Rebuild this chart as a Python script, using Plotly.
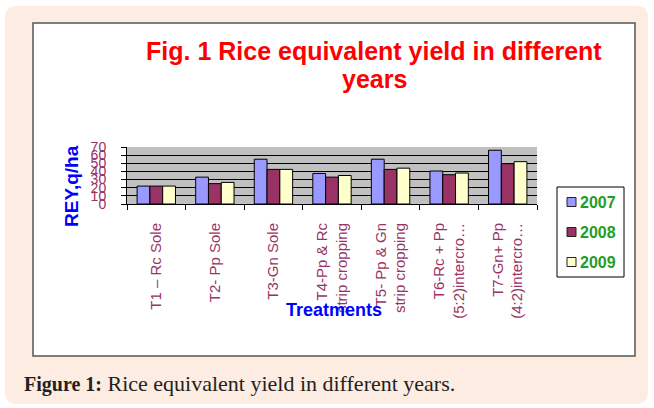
import plotly.graph_objects as go

# ---- data -------------------------------------------------------------
treatments = [
    "T1 – Rc Sole",
    "T2- Pp Sole",
    "T3-Gn Sole",
    "T4-Pp & Rc<br>strip cropping",
    "T5- Pp & Gn<br>strip cropping",
    "T6-Rc + Pp<br>(5:2)intercro…",
    "T7-Gn+ Pp<br>(4:2)intercro…",
]
years = ["2007", "2008", "2009"]
rey_2007 = [22, 33, 55, 37.5, 55, 40.5, 66]
rey_2008 = [22, 25, 42.5, 33, 42.5, 36, 49.5]
rey_2009 = [22, 26.5, 42.5, 35, 44, 38, 52]
y_ticks = [0, 10, 20, 30, 40, 50, 60, 70]

series = [rey_2007, rey_2008, rey_2009]
bar_colors = ["#9999ff", "#993366", "#ffffcc"]

# ---- page geometry (pixels) -------------------------------------------
W, H = 654, 408
L, R, T, B = 127, 537, 147, 204          # plot area edges


def fx(px):
    return (px - L) / (R - L)


def fy(py):
    return (B - py) / (B - T)


def rounded_rect(x0, y0, x1, y1, r):
    pts = [
        ("M", x0 + r, y0), ("L", x1 - r, y0), ("Q", x1, y0, x1, y0 + r),
        ("L", x1, y1 - r), ("Q", x1, y1, x1 - r, y1), ("L", x0 + r, y1),
        ("Q", x0, y1, x0, y1 - r), ("L", x0, y0 + r), ("Q", x0, y0, x0 + r, y0),
    ]
    out = []
    for p in pts:
        cmd, coords = p[0], p[1:]
        pairs = []
        for i in range(0, len(coords), 2):
            pairs.append(f"{fx(coords[i]):.5f},{fy(coords[i + 1]):.5f}")
        out.append(cmd + " ".join(pairs))
    return " ".join(out) + " Z"


SANS = "Liberation Sans, Arial, sans-serif"
MAROON = "#993366"

fig = go.Figure()
for name, vals, col in zip(years, series, bar_colors):
    fig.add_trace(go.Bar(
        x=treatments, y=vals, name=name,
        marker=dict(color=col, line=dict(color="black", width=1)),
        showlegend=False,
    ))

shapes = [
    # peach frame
    dict(type="path", xref="paper", yref="paper", layer="below",
         path=rounded_rect(5, 6, 648, 404, 12),
         fillcolor="#fcece2", line=dict(width=0)),
    # white chart box
    dict(type="rect", xref="paper", yref="paper", layer="below",
         x0=fx(33), x1=fx(635), y0=fy(23), y1=fy(356),
         fillcolor="white", line=dict(color="#555555", width=1.5)),
    # grey plot background
    dict(type="rect", xref="paper", yref="paper", layer="below",
         x0=0, x1=1, y0=0, y1=1, fillcolor="#c0c0c0", line=dict(width=0)),
    # legend box
    dict(type="rect", xref="paper", yref="paper",
         x0=fx(557), x1=fx(624), y0=fy(187), y1=fy(277),
         fillcolor="white", line=dict(color="black", width=1)),
]

annotations = [
    dict(text="<b>Fig. 1 Rice equivalent yield in different</b>", x=fx(374), y=fy(51),
         font=dict(family=SANS, size=25, color="#ff0000")),
    dict(text="<b>years</b>", x=fx(374), y=fy(79),
         font=dict(family=SANS, size=25, color="#ff0000")),
    dict(text="<b>REY,q/ha</b>", x=fx(71), y=fy(186), textangle=-90,
         font=dict(family=SANS, size=19, color="#0000ff")),
    dict(text="<b>Treatments</b>", x=fx(334), y=fy(310),
         font=dict(family=SANS, size=18, color="#0000ff")),
]

# legend entries
legend_y = [202, 232, 262]
for name, col, ly in zip(years, bar_colors, legend_y):
    shapes.append(dict(type="rect", xref="paper", yref="paper",
                       x0=fx(567), x1=fx(576), y0=fy(ly + 4.5), y1=fy(ly - 4.5),
                       fillcolor=col, line=dict(color="#222222", width=1)))
    annotations.append(dict(text="<b>" + name + "</b>", x=fx(578), y=fy(ly),
                            xanchor="left",
                            font=dict(family=SANS, size=16, color="#1f9e24")))

# caption
annotations.append(dict(
    text=('<b><span style="font-size:20px">Figure 1:</span></b> '
          "Rice equivalent yield in different years."),
    x=fx(22), y=fy(383), xanchor="left",
    font=dict(family="Liberation Serif, Times New Roman, serif", size=22, color="#231f20"),
))

for a in annotations:
    a.setdefault("xref", "paper")
    a.setdefault("yref", "paper")
    a.setdefault("xanchor", "center")
    a.setdefault("yanchor", "middle")
    a["showarrow"] = False

fig.update_layout(
    width=W, height=H,
    margin=dict(l=L, r=W - R, t=T, b=H - B, pad=0),
    paper_bgcolor="white",
    plot_bgcolor="rgba(0,0,0,0)",
    barmode="group", bargap=0.345, bargroupgap=0,
    shapes=shapes, annotations=annotations,
    showlegend=False,
    xaxis=dict(
        type="category", range=[-0.5, 6.5],
        showline=True, linecolor="black", linewidth=1,
        ticks="outside", ticklen=5, tickcolor="black", tickson="boundaries",
        tickangle=-90, ticklabelstandoff=12,
        tickfont=dict(family=SANS, size=15, color=MAROON),
        showgrid=False,
    ),
    yaxis=dict(
        range=[0, 70], tickmode="array", tickvals=y_ticks,
        showgrid=True, gridcolor="black", gridwidth=1, zeroline=False,
        showline=True, linecolor="black", linewidth=1,
        ticks="outside", ticklen=5, tickcolor="black", ticklabelstandoff=12,
        tickfont=dict(family=SANS, size=14, color=MAROON),
    ),
)

fig.write_html("out.html")
